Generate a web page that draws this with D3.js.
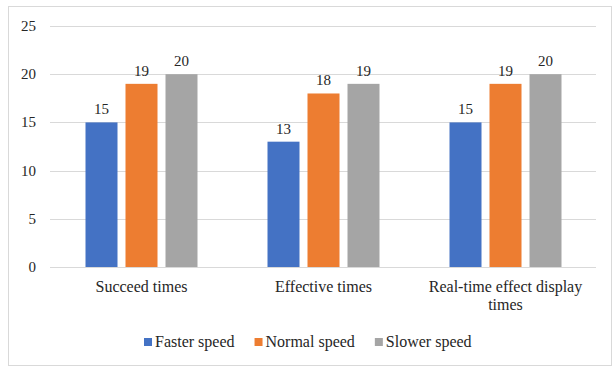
<!DOCTYPE html>
<html><head><meta charset="utf-8">
<script src="https://cdn.jsdelivr.net/npm/d3@7"></script>
<style>body{margin:0;background:#fff}</style>
</head><body>
<svg id="c" width="613" height="367"></svg>
<script>
const categories = ["Succeed times", "Effective times", "Real-time effect display times"];
const seriesNames = ["Faster speed", "Normal speed", "Slower speed"];
const faster = [15, 13, 15];
const normal = [19, 18, 19];
const slower = [20, 19, 20];
const yTicks = [0, 5, 10, 15, 20, 25];
const colors = ["#4472C4", "#ED7D31", "#A5A5A5"];
const series = [faster, normal, slower];
const FONT = `"Times New Roman"`;
const FS = 16, NS = 15;
const TXT = "#262626";

const svg = d3.select("#c");
svg.append("rect").attr("x", 8.5).attr("y", 6.5).attr("width", 603).attr("height", 359)
  .attr("fill", "#fff").attr("stroke", "#d9d9d9");

const x0 = d3.scaleBand().domain(categories).range([50.5, 596.5]).paddingInner(0).paddingOuter(0);
const x1 = d3.scaleBand().domain(seriesNames).range([35, x0.bandwidth() - 35]).paddingInner(0.2).paddingOuter(0);
const y = d3.scaleLinear().domain([0, 25]).range([267, 26]);

const grid = svg.append("g");
grid.selectAll("line").data(yTicks).join("line")
  .attr("x1", 50).attr("x2", 596).attr("y1", d => Math.round(y(d)) + 0.5).attr("y2", d => Math.round(y(d)) + 0.5)
  .attr("stroke", "#d9d9d9").attr("stroke-width", 1);

const yl = svg.append("g");
yl.selectAll("text").data(yTicks).join("text")
  .attr("x", 36).attr("y", d => y(d) + 5).attr("text-anchor", "end")
  .style("font-family", FONT).attr("font-size", NS).attr("fill", TXT).text(d => d);

series.forEach((vals, si) => {
  const g = svg.append("g");
  g.selectAll("rect").data(categories).join("rect")
    .attr("x", (c) => x0(c) + x1(seriesNames[si]))
    .attr("width", x1.bandwidth())
    .attr("y", (c, i) => y(vals[i]))
    .attr("height", (c, i) => y(0) - y(vals[i]))
    .attr("fill", colors[si]);
  g.selectAll("text").data(categories).join("text")
    .attr("x", (c) => x0(c) + x1(seriesNames[si]) + x1.bandwidth() / 2)
    .attr("y", (c, i) => y(vals[i]) - 8)
    .attr("text-anchor", "middle").style("font-family", FONT).attr("font-size", NS).attr("fill", TXT)
    .text((c, i) => vals[i]);
});

const xa = svg.append("g");
const lines = [["Succeed times"], ["Effective times"], ["Real-time effect display", "times"]];
categories.forEach((c, i) => {
  const cx = x0(c) + x0.bandwidth() / 2;
  lines[i].forEach((l, j) => xa.append("text").attr("x", cx).attr("y", 292 + j * 18)
    .attr("text-anchor", "middle").style("font-family", FONT).attr("font-size", FS).attr("fill", TXT).text(l));
});

const leg = svg.append("g");
let lx = 144;
seriesNames.forEach((s, i) => {
  leg.append("rect").attr("x", lx).attr("y", 338).attr("width", 8).attr("height", 8).attr("fill", colors[i]);
  const t = leg.append("text").attr("x", lx + 11).attr("y", 347).style("font-family", FONT).attr("font-size", FS).attr("fill", TXT).text(s);
  lx += 11 + t.node().getComputedTextLength() + 20;
});
</script>
</body></html>
